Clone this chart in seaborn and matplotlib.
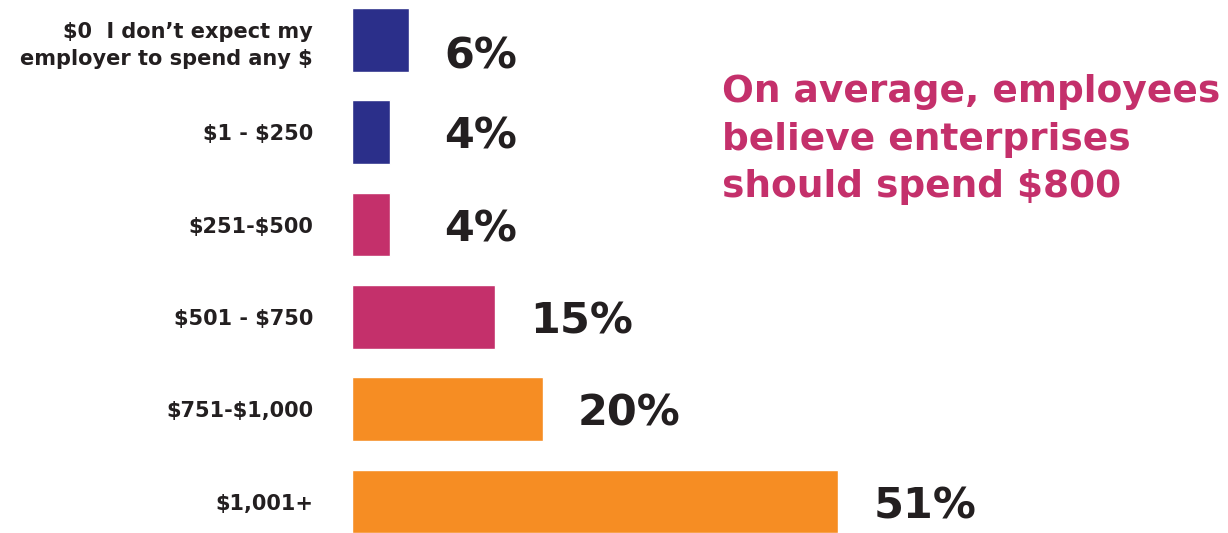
import matplotlib
matplotlib.use("Agg")
import matplotlib.pyplot as plt
import seaborn as sns
import pandas as pd

categories = [
    "$0  I don\u2019t expect my\nemployer to spend any $",
    "$1 - $250",
    "$251-$500",
    "$501 - $750",
    "$751-$1,000",
    "$1,001+",
]
shares = [6, 4, 4, 15, 20, 51]
value_labels = ["6%", "4%", "4%", "15%", "20%", "51%"]
bar_colors = ["#2B2F8A", "#2B2F8A", "#C4306B", "#C4306B", "#F68D23", "#F68D23"]
callout_lines = ["On average, employees", "believe enterprises", "should spend $800"]

sns.set_theme(style="white")
plt.rcParams["font.family"] = ["DejaVu Sans"]
plt.rcParams["text.parse_math"] = False

TEXT = "#231F20"
ACCENT = "#C4306B"

df = pd.DataFrame({"range": categories, "share": shares})

fig = plt.figure(figsize=(12.28, 5.33), dpi=100)
ax = fig.add_axes([352 / 1228, 0, 1 - 352 / 1228, 1])

sns.barplot(data=df, x="share", y="range", hue="range", palette=bar_colors,
            orient="h", width=0.69, legend=False, ax=ax, saturation=1)

ax.set_xlim(0, 91.9)
ax.set_ylim(5.341, -0.433)
ax.set_xlabel("")
ax.set_ylabel("")
ax.set_xticks([])
sns.despine(ax=ax, left=True, bottom=True)
ax.tick_params(axis="y", length=0, pad=28)
for lab in ax.get_yticklabels():
    lab.set_fontsize(15)
    lab.set_fontweight("bold")
    lab.set_color(TEXT)
    lab.set_multialignment("right")
    lab.set_linespacing(1.45)

# the top row's value label sits a little lower than its bar's centre
label_nudge = [0.13, 0, 0, 0, 0, 0]
for i, (v, txt) in enumerate(zip(shares, value_labels)):
    ax.text(max(v, 6.0) + 3.7, i + label_nudge[i], txt, ha="left",
            va="center_baseline", fontsize=31, fontweight="bold", color=TEXT)

baselines = [102, 150, 197]
for line, yb in zip(callout_lines, baselines):
    fig.text(722 / 1228, 1 - yb / 533, line, ha="left", va="baseline",
             fontsize=27, fontweight="bold", color=ACCENT)

fig.savefig("out.png", dpi=100)
